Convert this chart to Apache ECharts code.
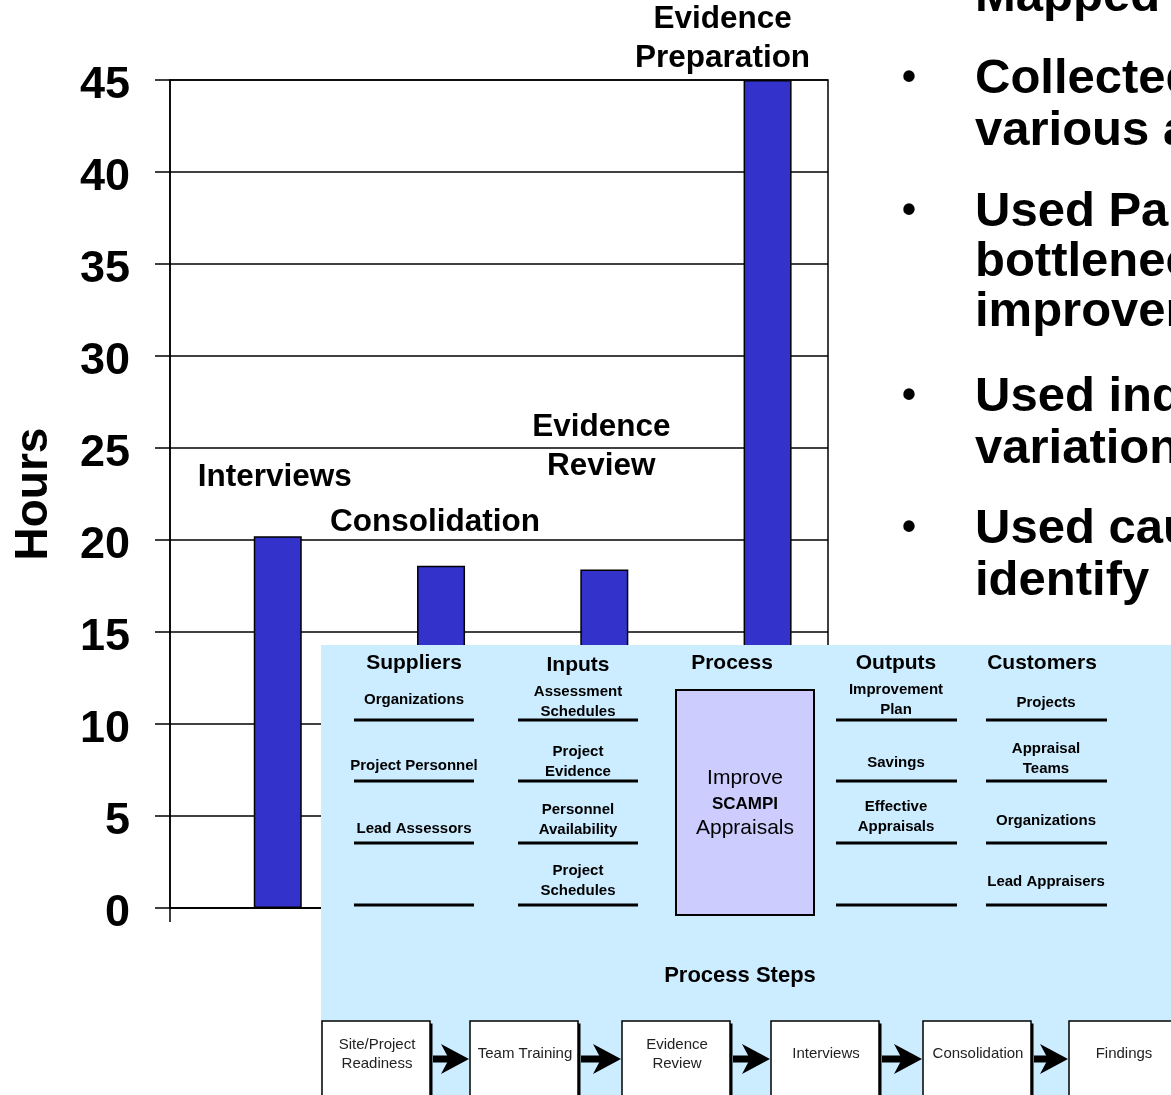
<!DOCTYPE html>
<html>
<head>
<meta charset="utf-8">
<script src="https://cdn.jsdelivr.net/npm/echarts@6/dist/echarts.min.js"></script>
<style>
html,body{margin:0;padding:0;background:#fff;}
#chart{width:1171px;height:1095px;}
</style>
</head>
<body>
<div id="chart"></div>
<script>
// ---------- DATA ----------
const categories = ['Interviews', 'Consolidation', 'Evidence\nReview', 'Evidence\nPreparation'];
const hours = [20.2, 18.6, 18.4, 45];
const yAxisName = 'Hours';

const sipocHeaders = ['Suppliers', 'Inputs', 'Process', 'Outputs', 'Customers'];
const suppliers = ['Organizations', 'Project Personnel', 'Lead Assessors', ''];
const inputs = ['Assessment\nSchedules', 'Project\nEvidence', 'Personnel\nAvailability', 'Project\nSchedules'];
const outputs = ['Improvement\nPlan', 'Savings', 'Effective\nAppraisals', ''];
const customers = ['Projects', 'Appraisal\nTeams', 'Organizations', 'Lead Appraisers'];
const processLines = ['Improve', 'SCAMPI', 'Appraisals'];
const stepsTitle = 'Process Steps';
const steps = ['Site/Project\nReadiness', 'Team Training', 'Evidence\nReview', 'Interviews', 'Consolidation', 'Findings'];
const bulletItems = [
  ['Mapped'],
  ['Collected', 'various ap'],
  ['Used Pare', 'bottlenec', 'improvem'],
  ['Used ind', 'variation'],
  ['Used caus', 'identify']
];

// ---------- LAYOUT ----------
const FONT = '"Liberation Sans", Arial, Helvetica, sans-serif';
const labelLayout = [
  { distance: 40, offset: [-3, 0] },
  { distance: 24, offset: [-6, 0] },
  { distance: 84, offset: [-3, 0] },
  { distance: 0, offset: [-45, -2] }
];

const chart = echarts.init(document.getElementById('chart'), null, { renderer: 'canvas' });

function txt(text, x, y, size, weight, color, lineHeight, extra) {
  return Object.assign({
    type: 'text',
    z: 110,
    style: {
      text: text, x: x, y: y,
      fill: color || '#000',
      fontSize: size, fontWeight: weight || 'normal', fontFamily: FONT,
      lineHeight: lineHeight || Math.round(size * 1.2),
      align: 'center', verticalAlign: 'middle',
      textAlign: 'center', textVerticalAlign: 'middle'
    }
  }, extra || {});
}

const g = [];
// SIPOC background
g.push({ type: 'rect', z: 100, shape: { x: 321, y: 645, width: 860, height: 460 }, style: { fill: '#CCECFF' } });

// Headers
const headerX = [414, 578, 732, 896, 1042];
sipocHeaders.forEach((h, i) => g.push(txt(h, headerX[i], i === 1 ? 665 : 663, 21, 'bold', '#000')));

// Column underlines
const underlineY = [720, 781, 843, 905];
const colRanges = [[354, 474], [518, 638], [836, 957], [986, 1107]];
colRanges.forEach(r => underlineY.forEach(y => g.push({
  type: 'line', z: 105, shape: { x1: r[0], y1: y, x2: r[1], y2: y }, style: { stroke: '#000', lineWidth: 3 }
})));

// Column items
const colItems = [suppliers, inputs, outputs, customers];
const colItemY = [
  [700, 766, 829, 886],
  [702, 762, 820, 881],
  [700, 763, 817, 886],
  [703, 759, 821, 882]
];
const colCenter = [414, 578, 896, 1046];
colItems.forEach((items, c) => items.forEach((t, r) => {
  if (t) g.push(txt(t, colCenter[c], colItemY[c][r], 15, 'bold', '#000', 20));
}));

// Process box
g.push({ type: 'rect', z: 104, shape: { x: 676, y: 690, width: 138, height: 225 }, style: { fill: '#CCCCFF', stroke: '#000', lineWidth: 2 } });
g.push(txt(processLines[0], 745, 778, 21, 'normal', '#000'));
g.push(txt(processLines[1], 745, 804, 17, 'bold', '#000'));
g.push(txt(processLines[2], 745, 828, 21, 'normal', '#000'));

// Process steps title
g.push(txt(stepsTitle, 740, 976, 22, 'bold', '#000'));

// Step boxes
const boxX = [322, 470, 622, 771, 923, 1069];
const boxW = 108, boxTop = 1021, boxH = 90;
boxX.forEach((x, i) => {
  g.push({ type: 'rect', z: 101, shape: { x: x + 2.5, y: boxTop + 2.5, width: boxW, height: boxH }, style: { fill: '#000' } });
  g.push({ type: 'rect', z: 102, shape: { x: x, y: boxTop, width: boxW, height: boxH }, style: { fill: '#fff', stroke: '#000', lineWidth: 1.5 } });
  g.push(txt(steps[i], x + boxW / 2 + 1, 1054, 15, 'normal', '#222', 19));
  if (i < boxX.length - 1) {
    const x1 = x + boxW + 3, x2 = boxX[i + 1] - 1, y = 1059;
    g.push({ type: 'line', z: 103, shape: { x1: x1, y1: y, x2: x2 - 8, y2: y }, style: { stroke: '#000', lineWidth: 7 } });
    g.push({ type: 'polygon', z: 103, shape: { points: [[x2 - 28, y - 15], [x2, y], [x2 - 28, y + 15], [x2 - 20, y]] }, style: { fill: '#000' } });
  }
});

// Bullet text on the right
const lineBaselines = [[13], [95, 147], [228, 278, 328], [413, 465], [545, 597]];
bulletItems.forEach((lines, i) => {
  lines.forEach((t, j) => {
    const y = lineBaselines[i][j] - 16;
    g.push({
      type: 'text', z: 90,
      style: {
        text: t, x: 975, y: y, fill: '#000',
        fontSize: 49, fontWeight: 'bold', fontFamily: FONT,
        align: 'left', verticalAlign: 'middle', textAlign: 'left', textVerticalAlign: 'middle'
      }
    });
  });
  g.push(txt('\u2022', 909, lineBaselines[i][0] - 16, 40, 'bold', '#000'));
});

const option = {
  animation: false,
  backgroundColor: '#fff',
  grid: {
    left: 170, top: 80, right: 343, bottom: 187,
    containLabel: false, outerBoundsMode: 'none',
    show: true, borderColor: '#000', borderWidth: 1.5, backgroundColor: '#fff'
  },
  xAxis: {
    type: 'value',
    min: -0.66, max: 3.37, interval: 1,
    axisLine: { show: true, onZero: false, lineStyle: { color: '#000', width: 1.5 } },
    axisTick: { show: true, length: 14, lineStyle: { color: '#000', width: 1.5 } },
    axisLabel: { show: false },
    splitLine: { show: false }
  },
  yAxis: {
    type: 'value',
    min: 0, max: 45, interval: 5,
    name: yAxisName,
    nameLocation: 'middle',
    nameRotate: 90,
    nameGap: 113,
    nameTextStyle: { fontSize: 46, fontWeight: 'bold', color: '#000', fontFamily: FONT },
    axisLine: { show: true, onZero: false, lineStyle: { color: '#000', width: 1.5 } },
    axisTick: { show: true, length: 15, lineStyle: { color: '#000', width: 1.5 } },
    axisLabel: {
      fontSize: 45, fontWeight: 'bold', color: '#000', fontFamily: FONT, margin: 40,
      formatter: '{v|{value}}',
      rich: { v: { fontSize: 45, fontWeight: 'bold', color: '#000', fontFamily: FONT, padding: [12, 0, 0, 0] } }
    },
    splitLine: { show: true, lineStyle: { color: '#000', width: 1.5 } }
  },
  series: [{
    type: 'bar',
    barWidth: 48,
    data: hours.map((v, i) => ({
      value: [i, v],
      label: { distance: labelLayout[i].distance, offset: labelLayout[i].offset }
    })),
    itemStyle: { color: '#3333CC', borderColor: '#000', borderWidth: 1.5 },
    label: {
      show: true,
      position: 'top',
      formatter: p => categories[p.dataIndex],
      fontSize: 31.5, fontWeight: 'bold', color: '#000', fontFamily: FONT,
      lineHeight: 39, align: 'center'
    }
  }],
  graphic: { elements: g }
};
chart.setOption(option);
</script>
</body>
</html>
